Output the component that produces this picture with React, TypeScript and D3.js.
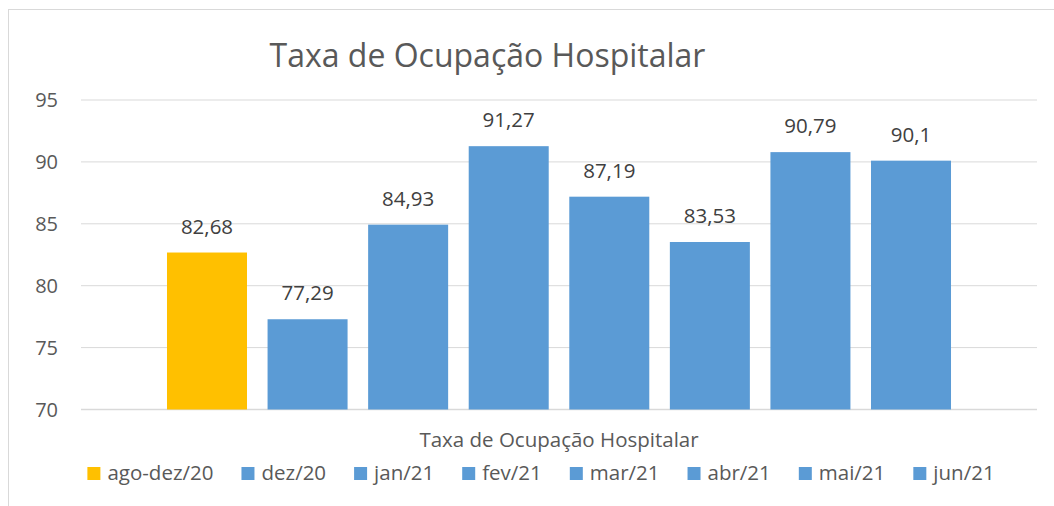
import React, { useEffect, useRef } from 'react';
import * as d3 from 'd3';

// one series per month, a single category on the x axis
const seriesNames = ['ago-dez/20', 'dez/20', 'jan/21', 'fev/21', 'mar/21', 'abr/21', 'mai/21', 'jun/21'];
const seriesValues = [82.68, 77.29, 84.93, 91.27, 87.19, 83.53, 90.79, 90.1];
const seriesColors = ['#FFC000', '#5B9BD5', '#5B9BD5', '#5B9BD5', '#5B9BD5', '#5B9BD5', '#5B9BD5', '#5B9BD5'];
const yTicks = [70, 75, 80, 85, 90, 95];
const chartTitle = 'Taxa de Ocupação Hospitalar';
const categoryLabel = 'Taxa de Ocupação Hospitalar';

const W = 1054;
const H = 506;
const FONT = '"Open Sans", sans-serif';

const fmt = (v: number) => String(v).replace('.', ',');

const App: React.FC = () => {
    const svgRef = useRef<SVGSVGElement | null>(null);

    useEffect(() => {
        if (!svgRef.current) return;
        const svg = d3.select(svgRef.current);
        svg.selectAll('*').remove();

        const left = 81;
        const right = 1037;
        const top = 100;
        const bottom = 409.5;

        const y = d3.scaleLinear().domain([70, 95]).range([bottom, top]);
        const x = d3
            .scaleBand<string>()
            .domain(seriesNames)
            .range([left, right])
            .paddingInner(0.2045)
            .paddingOuter(0.855);

        // chart frame
        svg.append('rect')
            .attr('x', 8.5).attr('y', 9.5)
            .attr('width', W + 20).attr('height', H + 20)
            .attr('fill', '#fff')
            .attr('stroke', '#D9D9D9').attr('stroke-width', 1);

        // title
        svg.append('text')
            .attr('x', 487.5).attr('y', 67)
            .attr('text-anchor', 'middle')
            .attr('font-family', FONT).attr('font-size', 32)
            .attr('fill', '#595959')
            .text(chartTitle);

        // gridlines
        svg.append('g')
            .selectAll('line')
            .data(yTicks)
            .enter()
            .append('line')
            .attr('x1', left).attr('x2', right)
            .attr('y1', (d) => y(d)).attr('y2', (d) => y(d))
            .attr('stroke', '#D9D9D9').attr('stroke-width', (d) => (d === 70 ? 1.5 : 1));

        // y labels
        svg.append('g')
            .selectAll('text')
            .data(yTicks)
            .enter()
            .append('text')
            .attr('x', 58).attr('y', (d) => y(d))
            .attr('dy', '0.35em')
            .attr('text-anchor', 'end')
            .attr('font-family', FONT).attr('font-size', 20)
            .attr('fill', '#595959')
            .text((d) => d);

        // bars
        svg.append('g')
            .selectAll('rect')
            .data(seriesNames)
            .enter()
            .append('rect')
            .attr('x', (d) => x(d) as number)
            .attr('width', x.bandwidth())
            .attr('y', (_, i) => y(seriesValues[i]))
            .attr('height', (_, i) => bottom - y(seriesValues[i]))
            .attr('fill', (_, i) => seriesColors[i]);

        // data labels
        svg.append('g')
            .selectAll('text')
            .data(seriesNames)
            .enter()
            .append('text')
            .attr('x', (d) => (x(d) as number) + x.bandwidth() / 2)
            .attr('y', (_, i) => y(seriesValues[i]) - 19)
            .attr('text-anchor', 'middle')
            .attr('font-family', FONT).attr('font-size', 20.5)
            .attr('fill', '#404040')
            .text((_, i) => fmt(seriesValues[i]));

        // category label
        svg.append('text')
            .attr('x', (left + right) / 2).attr('y', 447)
            .attr('text-anchor', 'middle')
            .attr('font-family', FONT).attr('font-size', 20.5)
            .attr('fill', '#595959')
            .text(categoryLabel);

        // legend, laid out from measured text widths
        const legend = svg.append('g');
        const items = legend
            .selectAll('g')
            .data(seriesNames)
            .enter()
            .append('g');
        items.append('rect')
            .attr('width', 13).attr('height', 13)
            .attr('y', 467)
            .attr('fill', (_, i) => seriesColors[i]);
        const labels = items.append('text')
            .attr('x', 20).attr('y', 480)
            .attr('font-family', FONT).attr('font-size', 20.5)
            .attr('fill', '#595959')
            .text((d) => d);

        const widths: number[] = [];
        labels.each(function () {
            widths.push((this as SVGTextElement).getComputedTextLength());
        });
        const gap = 28;
        const total = d3.sum(widths, (w) => 20 + w) + gap * (widths.length - 1);
        let cx = 541 - total / 2;
        items.each(function (_, i) {
            d3.select(this).attr('transform', `translate(${cx},0)`);
            cx += 20 + widths[i] + gap;
        });
    }, []);

    return <svg ref={svgRef} width={W} height={H} style={{ display: 'block', position: 'absolute', left: 0, top: 0 }} />;
};

export default App;
